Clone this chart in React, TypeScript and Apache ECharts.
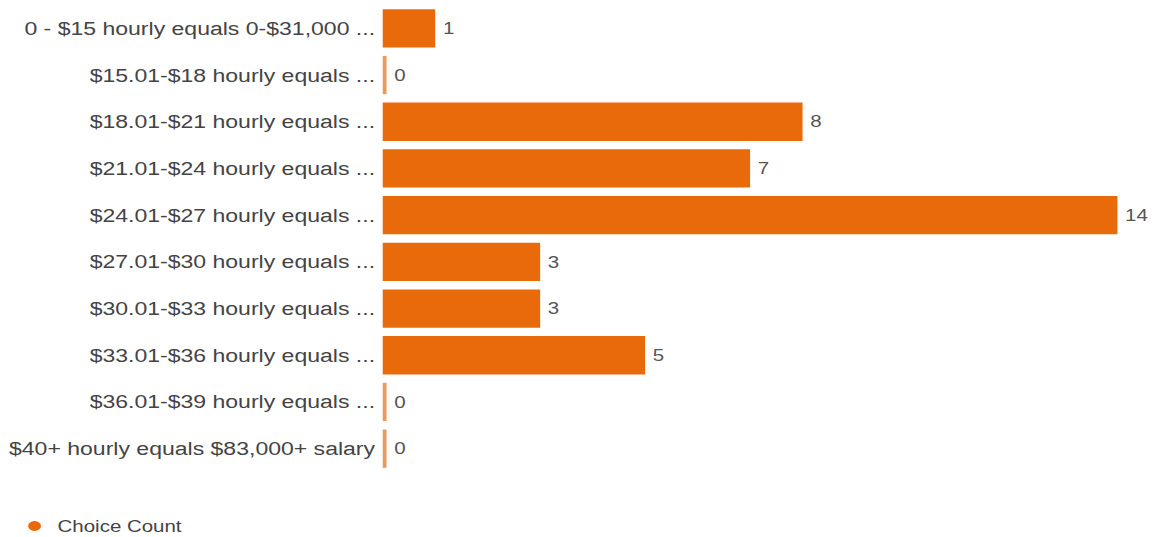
import React, { useEffect, useRef } from "react";
import * as echarts from "echarts";

const categories: string[] = [
  "0 - $15 hourly equals 0-$31,000 ...",
  "$15.01-$18 hourly equals ...",
  "$18.01-$21 hourly equals ...",
  "$21.01-$24 hourly equals ...",
  "$24.01-$27 hourly equals ...",
  "$27.01-$30 hourly equals ...",
  "$30.01-$33 hourly equals ...",
  "$33.01-$36 hourly equals ...",
  "$36.01-$39 hourly equals ...",
  "$40+ hourly equals $83,000+ salary",
];
const choiceCount: number[] = [1, 0, 8, 7, 14, 3, 3, 5, 0, 0];
const seriesName = "Choice Count";

const SCALE_X = 1.28;
const W = 1155 / SCALE_X;
const H = 537;

export default function App() {
  const ref = useRef<HTMLDivElement>(null);
  useEffect(() => {
    if (!ref.current) return;
    const chart = echarts.init(ref.current, undefined, { renderer: "svg" });
    const color = "#E96A0B";
    const zeroColor = "#E99A62";
    chart.setOption({
      animation: false,
      grid: { left: 299, right: 29, top: 5, bottom: 65 },
      xAxis: {
        type: "value",
        min: 0,
        max: 14,
        show: false,
        splitLine: { show: false },
      },
      yAxis: {
        type: "category",
        inverse: true,
        data: categories,
        axisLine: { show: false },
        axisTick: { show: false },
        axisLabel: {
          margin: 6,
          fontSize: 18,
          color: "#444",
          fontFamily: "Liberation Sans, Arial, sans-serif",
        },
      },
      legend: {
        left: 17,
        top: 513,
        icon: "circle",
        itemWidth: 10,
        itemHeight: 10,
        textStyle: {
          fontSize: 16,
          color: "#444",
          fontFamily: "Liberation Sans, Arial, sans-serif",
          padding: [0, 0, 0, 8],
        },
        data: [seriesName],
      },
      series: [
        {
          name: seriesName,
          type: "bar",
          barCategoryGap: "18%",
          barMinHeight: 3,
          itemStyle: { color },
          data: choiceCount.map((v) =>
            v === 0 ? { value: v, itemStyle: { color: zeroColor } } : v
          ),
          label: {
            show: true,
            position: "right",
            distance: 6,
            fontSize: 16,
            color: "#555",
            fontFamily: "Liberation Sans, Arial, sans-serif",
          },
        },
      ],
    });
    return () => chart.dispose();
  }, []);
  return (
    <div
      style={{
        position: "fixed",
        left: 0,
        top: 0,
        width: 1155,
        height: 537,
        overflow: "hidden",
        background: "#fff",
      }}
    >
      <div
        ref={ref}
        style={{
          width: W,
          height: H,
          transform: `scaleX(${SCALE_X})`,
          transformOrigin: "0 0",
        }}
      />
    </div>
  );
}
